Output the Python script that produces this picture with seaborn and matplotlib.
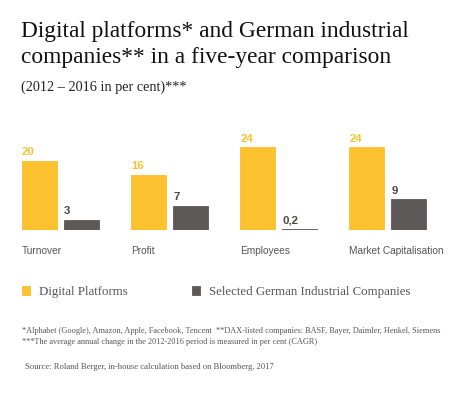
import pandas as pd
import matplotlib.pyplot as plt
import seaborn as sns

categories = ["Turnover", "Profit", "Employees", "Market Capitalisation"]
series = ["Digital Platforms", "Selected German Industrial Companies"]
digital = [20, 16, 24, 24]
german = [3, 7, 0.2, 9]
colors = ["#FCC12E", "#5D5958"]

df = pd.DataFrame({
    "Category": categories * 2,
    "Group": [series[0]] * 4 + [series[1]] * 4,
    "Value": digital + german,
})

sns.set_style("white")
plt.rcParams["font.family"] = ["Liberation Sans", "DejaVu Sans"]

fig = plt.figure(figsize=(4.73, 3.93), dpi=100)
ax = fig.add_axes([0, (393 - 230) / 393, 1, 110 / 393])

sns.barplot(data=df, x="Category", y="Value", hue="Group",
            palette=colors, width=0.77, gap=0.167, saturation=1, ax=ax)

# thin outline so the 0,2 bar still shows as a line
for p in ax.patches:
    p.set_edgecolor(p.get_facecolor())
    p.set_linewidth(0.6)

ax.set_xlim(-60.5 / 109.1, (473 - 60.5) / 109.1)
ax.set_ylim(0, 110 / 3.46)
ax.axis("off")

# value labels, left aligned over each bar
for cont, vals, col in zip(ax.containers, [digital, german], ["#FCC12E", "#4A4644"]):
    for bar, v in zip(cont, vals):
        ax.annotate(f"{v:g}".replace(".", ","), xy=(bar.get_x(), bar.get_height()),
                    xytext=(0, 2.4), textcoords="offset points", ha="left", va="bottom",
                    fontsize=8.2, fontweight="bold", color=col)

# category labels under each group
for bar, cat in zip(ax.containers[0], categories):
    ax.annotate(cat, xy=(bar.get_x(), 0), xytext=(0, -17.3), textcoords="offset points",
                ha="left", va="baseline", fontsize=7.3, color="#555555")

serif = ["Liberation Serif", "DejaVu Serif"]
fig.text(21 / 473, 1 - 36.5 / 393, "Digital platforms* and German industrial",
         family=serif, fontsize=16.8, color="#111111", va="baseline")
fig.text(21 / 473, 1 - 63.5 / 393, "companies** in a five-year comparison",
         family=serif, fontsize=16.8, color="#111111", va="baseline")
fig.text(21 / 473, 1 - 90.7 / 393, "(2012 – 2016 in per cent)***",
         family=serif, fontsize=10.3, color="#222222", va="baseline")

leg = ax.legend(loc="upper left", bbox_to_anchor=(22 / 473, 1 - 286 / 393),
                bbox_transform=fig.transFigure, ncol=2, frameon=False,
                prop={"family": serif, "size": 9.3}, handlelength=0.6, handleheight=0.6,
                handletextpad=0.7, columnspacing=5.0, borderaxespad=0, borderpad=0)
for t in leg.get_texts():
    t.set_color("#555555")

fig.text(22 / 473, 1 - 333 / 393,
         "*Alphabet (Google), Amazon, Apple, Facebook, Tencent  **DAX-listed companies: BASF, Bayer, Daimler, Henkel, Siemens",
         family=serif, fontsize=5.95, color="#555555", va="baseline")
fig.text(22 / 473, 1 - 344 / 393,
         "***The average annual change in the 2012-2016 period is measured in per cent (CAGR)",
         family=serif, fontsize=5.95, color="#555555", va="baseline")
fig.text(25 / 473, 1 - 369 / 393,
         "Source: Roland Berger, in-house calculation based on Bloomberg, 2017",
         family=serif, fontsize=6.2, color="#555555", va="baseline")

fig.savefig("out.png", dpi=100, facecolor="white")
